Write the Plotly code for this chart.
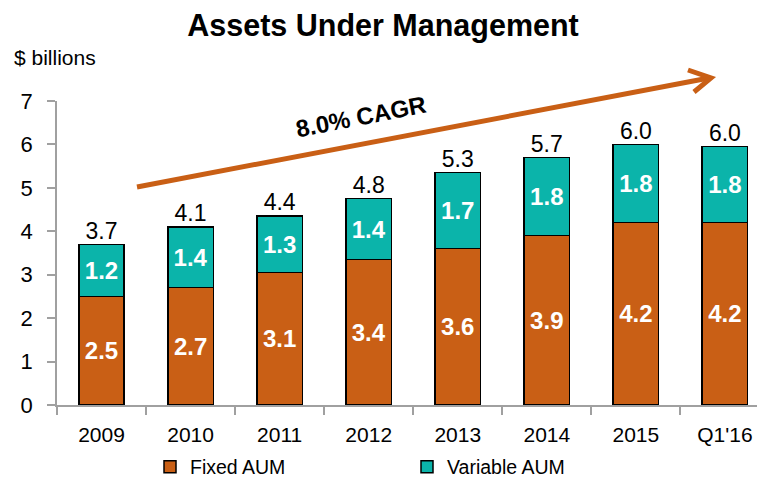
import plotly.graph_objects as go

categories = ["2009", "2010", "2011", "2012", "2013", "2014", "2015", "Q1'16"]
fixed_aum = [2.5, 2.7, 3.05, 3.35, 3.6, 3.9, 4.2, 4.2]
variable_aum = [1.2, 1.4, 1.3, 1.4, 1.75, 1.8, 1.8, 1.75]
fixed_labels = ["2.5", "2.7", "3.1", "3.4", "3.6", "3.9", "4.2", "4.2"]
variable_labels = ["1.2", "1.4", "1.3", "1.4", "1.7", "1.8", "1.8", "1.8"]
total_labels = ["3.7", "4.1", "4.4", "4.8", "5.3", "5.7", "6.0", "6.0"]
y_ticks = [0, 1, 2, 3, 4, 5, 6, 7]

FONT = "Liberation Sans, Arial, sans-serif"
ORANGE = "#C95F15"
TEAL = "#0BB4AA"

totals = [f + v for f, v in zip(fixed_aum, variable_aum)]

# page body has an 8px margin: figure is laid out in page pixels minus 8
W, H = 757, 481
L, T, B = 49, 93, 84
PW = W - L          # plot width
PH = H - T - B      # plot height


def px(xw):
    return (xw - 8 - L) / PW


def py(yw):
    return 1 - (yw - 8 - T) / PH


fig = go.Figure()
fig.add_trace(go.Bar(
    x=categories, y=fixed_aum, name="Fixed AUM",
    marker=dict(color=ORANGE, line=dict(color="black", width=1.5)),
    text=fixed_labels, textposition="inside", insidetextanchor="middle",
    textfont=dict(family=FONT, size=24, color="white", weight="bold"),
    textangle=0, hoverinfo="skip",
))
fig.add_trace(go.Bar(
    x=categories, y=variable_aum, name="Variable AUM",
    marker=dict(color=TEAL, line=dict(color="black", width=1.5)),
    text=variable_labels, textposition="inside", insidetextanchor="middle",
    textfont=dict(family=FONT, size=24, color="white", weight="bold"),
    textangle=0, hoverinfo="skip",
))
fig.add_trace(go.Scatter(
    x=categories, y=totals, mode="text", text=total_labels,
    textposition="top center", showlegend=False,
    textfont=dict(family=FONT, size=23, color="black"), hoverinfo="skip",
))

# CAGR arrow (decoration)
fig.add_shape(type="line", xref="paper", yref="paper",
              x0=px(137), y0=py(187), x1=px(709), y1=py(78),
              line=dict(color=ORANGE, width=5))
fig.add_shape(type="path", xref="paper", yref="paper",
              path="M {a},{b} L {c},{d} L {e},{f}".format(
                  a=px(688), b=py(70), c=px(711), d=py(78),
                  e=px(694), f=py(92)),
              line=dict(color=ORANGE, width=5))

fig.update_layout(
    width=W, height=H,
    margin=dict(l=L, r=0, t=T, b=B, autoexpand=False),
    paper_bgcolor="white", plot_bgcolor="white",
    barmode="stack", bargap=0.49,
    font=dict(family=FONT, color="black"),
    title=dict(text="<b>Assets Under Management</b>", x=(383 - 8) / W,
               xanchor="center", y=1 - (25 - 8) / H, yanchor="middle",
               font=dict(family=FONT, size=30.5, color="black")),
    showlegend=True,
    legend=dict(orientation="h", x=px(150), xanchor="left",
                y=py(467), yanchor="middle",
                font=dict(family=FONT, size=19.5, color="black"),
                entrywidth=212, traceorder="normal"),
    xaxis=dict(type="category", range=[-0.5, 7.45], showgrid=False,
               showline=True, linecolor="#A0A0A0", linewidth=1.5,
               ticks="outside", tickson="boundaries", ticklen=8,
               tickcolor="#A0A0A0", tickwidth=1.5, ticklabelstandoff=10,
               tickfont=dict(family=FONT, size=21, color="black")),
    yaxis=dict(range=[0, 7], tickvals=y_ticks, showgrid=False, zeroline=False,
               showline=True, linecolor="#A0A0A0", linewidth=1.5,
               ticks="outside", ticklen=8, tickcolor="#A0A0A0", tickwidth=1.5,
               ticklabelstandoff=10,
               tickfont=dict(family=FONT, size=22, color="black")),
)
fig.add_annotation(text="<b>8.0% CAGR</b>", xref="paper", yref="paper",
                   x=px(361), y=py(117), xanchor="center", yanchor="middle",
                   showarrow=False, textangle=-11,
                   font=dict(family=FONT, size=24, color="black"))
fig.add_annotation(text="$ billions", xref="paper", yref="paper",
                   x=px(12), xanchor="left",
                   y=py(58), yanchor="middle", showarrow=False,
                   font=dict(family=FONT, size=21, color="black"))

fig.write_html("out.html")
